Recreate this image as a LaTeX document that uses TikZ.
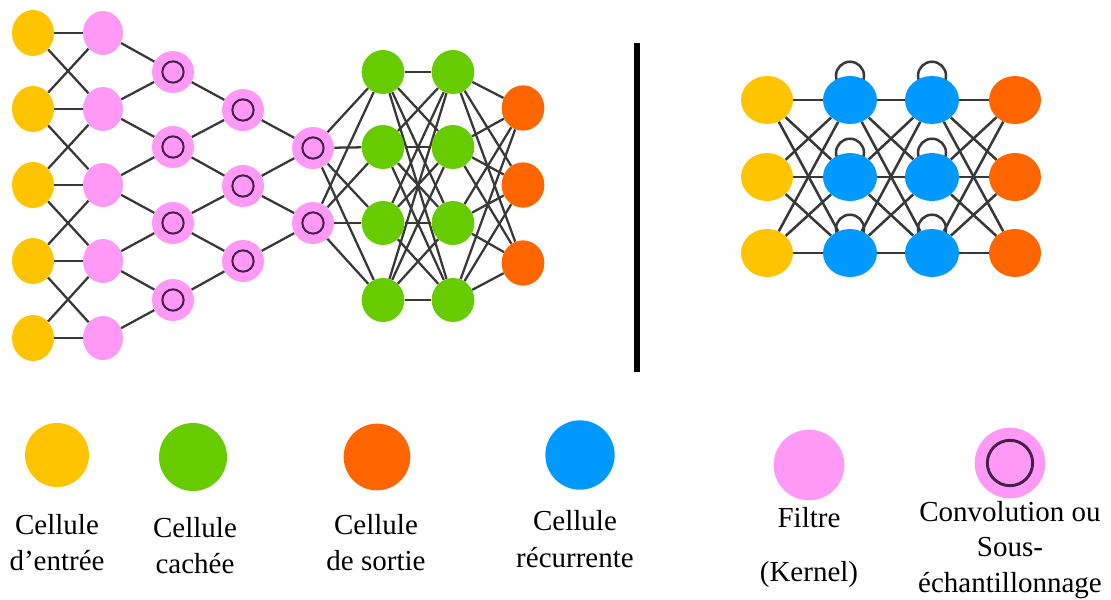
\documentclass[tikz,border=0pt]{standalone}
\usepackage{fontspec}
\setmainfont{Liberation Serif}
\usetikzlibrary{shapes.geometric,backgrounds}
\definecolor{cin}{HTML}{FFC400}
\definecolor{cflt}{HTML}{FF99F5}
\definecolor{chid}{HTML}{66CC00}
\definecolor{cout}{HTML}{FF6600}
\definecolor{crec}{HTML}{0099FF}
\definecolor{cring}{HTML}{45204D}
\definecolor{clink}{HTML}{383838}
\begin{document}
\begin{tikzpicture}[x=0.75pt,y=-0.75pt,
  cell/.style={ellipse,inner sep=0pt,draw=none},
  ring/.style 2 args={path picture={\draw[cring,line width=#2]
      (path picture bounding box.center) circle[radius=#1];}},
  inL/.style={cell,fill=cin,minimum width=31.5pt,minimum height=34.5pt},
  filt/.style={cell,fill=cflt,minimum width=30pt,minimum height=33pt},
  conv/.style={cell,fill=cflt,minimum width=31.5pt,minimum height=31.5pt,ring={8pt}{1.5pt}},
  hid/.style={cell,fill=chid,minimum width=32pt,minimum height=33pt},
  outL/.style={cell,fill=cout,minimum width=32pt,minimum height=34pt},
  inR/.style={cell,fill=cin,minimum width=39pt,minimum height=36pt},
  rec/.style={cell,fill=crec,minimum width=40.5pt,minimum height=36pt},
  outR/.style={cell,fill=cout,minimum width=39pt,minimum height=36pt},
  link/.style={draw=clink,line width=1.7pt},
  linkR/.style={draw=clink,line width=1.9pt},
  lbl/.style={anchor=base,align=center,inner sep=0pt,text=black},
]
\useasboundingbox (0,0) rectangle (1111,600);

% ---------------- convolutional network (left) ----------------
\foreach \i/\y in {1/33,2/109,3/185,4/261,5/338} {
  \node[inL]  (y\i) at (33,\y) {};
  \node[filt] (p\i) at (103,\y) {};
}
\foreach \i/\y in {1/72,2/147,3/223,4/300} {
  \node[conv] (c\i) at (173,\y) {};
  \node[hid]  (g\i) at (383,\y) {};
  \node[hid]  (h\i) at (453,\y) {};
}
\foreach \i/\y in {1/110,2/186,3/261}
  \node[conv] (d\i) at (243,\y) {};
\foreach \i/\y in {1/148,2/223}
  \node[conv] (e\i) at (313,\y) {};
\foreach \i/\y in {1/108,2/185,3/263}
  \node[outL] (o\i) at (523,\y) {};

% ---------------- recurrent network (right) ----------------
\foreach \i/\y in {1/100,2/177,3/253} {
  \node[inR]  (ry\i) at (767,\y) {};
  \node[rec]  (ra\i) at (850,\y) {};
  \node[rec]  (rb\i) at (932,\y) {};
  \node[outR] (ro\i) at (1015,\y) {};
}

% separator
\coordinate (sepT) at (637,43);
\coordinate (sepB) at (637,372);
\draw[line width=4.2pt] (sepT) -- (sepB);

\begin{pgfonlayer}{background}
  % input -> filters
  \foreach \a/\b in {1/1,1/2,2/1,2/2,2/3,3/2,3/3,3/4,4/3,4/4,4/5,5/4,5/5}
    \draw[link] (y\a) -- (p\b);
  % filters -> first convolution layer
  \foreach \a/\b in {1/1,2/1,2/2,3/2,3/3,4/3,4/4,5/4}
    \draw[link] (p\a) -- (c\b);
  % convolution layers
  \foreach \a/\b in {1/1,2/1,2/2,3/2,3/3,4/3}
    \draw[link] (c\a) -- (d\b);
  \foreach \a/\b in {1/1,2/1,2/2,3/2}
    \draw[link] (d\a) -- (e\b);
  % dense part
  \foreach \a in {1,2} \foreach \b in {1,...,4}
    \draw[link] (e\a) -- (g\b);
  \foreach \a in {1,...,4} \foreach \b in {1,...,4}
    \draw[link] (g\a) -- (h\b);
  \foreach \a in {1,...,4} \foreach \b in {1,2,3}
    \draw[link] (h\a) -- (o\b);
  % recurrent network links
  \foreach \a in {1,2,3} \foreach \b in {1,2,3} {
    \draw[linkR] (ry\a) -- (ra\b);
    \draw[linkR] (ra\a) -- (rb\b);
    \draw[linkR] (rb\a) -- (ro\b);
  }
  % self loops of the recurrent cells
  \foreach \i in {1,2,3} {
    \draw[linkR] (ra\i.north) circle[radius=10.5pt];
    \draw[linkR] (rb\i.north) circle[radius=10.5pt];
  }
\end{pgfonlayer}

% ---------------- legend ----------------
\node[cell,fill=cin, minimum size=48pt]   (lgin)  at (57,455) {};
\node[cell,fill=chid,minimum size=51pt]   (lghid) at (193,457) {};
\node[cell,fill=cout,minimum size=50pt]   (lgout) at (377,457) {};
\node[cell,fill=crec,minimum size=52pt]   (lgrec) at (580,455) {};
\node[cell,fill=cflt,minimum size=53pt]   (lgflt) at (809,465) {};
\node[cell,fill=cflt,minimum size=53pt,ring={17pt}{2.2pt}] (lgconv) at (1010,463) {};

% labels: the base anchor sits on the last line
\node[lbl,font=\fontsize{21.75}{27}\selectfont] (tin)  at (57,570)  {Cellule\\d’entrée};
\node[lbl,font=\fontsize{21.75}{26.5}\selectfont] (thid) at (195,573) {Cellule\\cachée};
\node[lbl,font=\fontsize{21.75}{27}\selectfont] (tout) at (376,570) {Cellule\\de sortie};
\node[lbl,font=\fontsize{21.75}{27.5}\selectfont] (trec) at (575,567) {Cellule\\récurrente};
\node[lbl,font=\fontsize{21.75}{40}\selectfont] (tflt) at (809,581) {Filtre\\(Kernel)};
\node[lbl,font=\fontsize{21.75}{26.5}\selectfont] (tconv) at (1010,592) {Convolution ou\\Sous-\\échantillonnage};
\end{tikzpicture}
\end{document}
